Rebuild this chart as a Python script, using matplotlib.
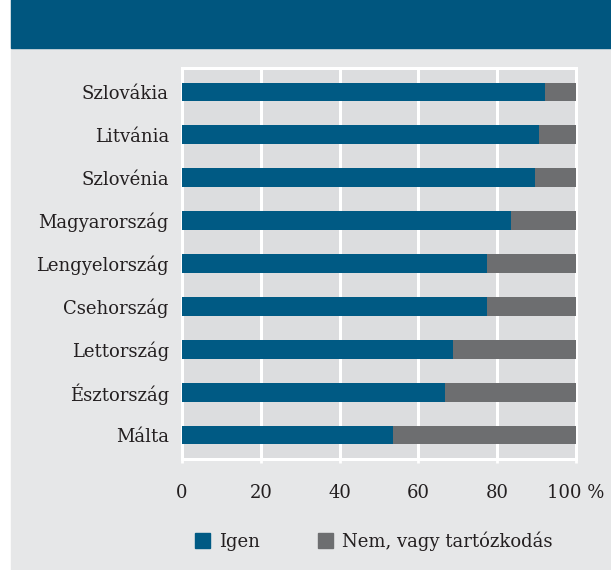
import matplotlib.pyplot as plt
from matplotlib.patches import Rectangle, Patch

countries = ['Málta', 'Észtország', 'Lettország', 'Csehország', 'Lengyelország',
             'Magyarország', 'Szlovénia', 'Litvánia', 'Szlovákia']
igen = [53.6, 66.8, 68.8, 77.3, 77.4, 83.5, 89.6, 90.6, 92.1]
nem = [100 - v for v in igen]
xticks = [0, 20, 40, 60, 80, 100]
xticklabels = ['0', '20', '40', '60', '80', '100 %']

blue = '#005a84'
grey = '#6d6e70'
bg = '#e6e7e8'
face = '#dcdddf'

plt.rcParams['font.family'] = 'DejaVu Serif'
plt.rcParams['font.size'] = 13

fig = plt.figure(figsize=(6.11, 5.70), dpi=100)
W, H = 611, 570
fig.patches.append(Rectangle((11 / W, 0), 1, 1, transform=fig.transFigure,
                             color=bg, zorder=-10))
fig.patches.append(Rectangle((11 / W, (H - 48) / H), 1, 1, transform=fig.transFigure,
                             color='#00567f', zorder=-9))

ax = fig.add_axes([182 / W, (H - 459) / H, (576 - 182) / W, (459 - 68) / H])
ax.set_facecolor(face)
ax.barh(range(len(countries)), igen, height=0.44, color=blue, zorder=3)
ax.barh(range(len(countries)), nem, left=igen, height=0.44, color=grey, zorder=3)

ax.set_xlim(0, 100)
ax.set_ylim(-0.56, len(countries) - 0.44)
ax.set_yticks(range(len(countries)))
ax.set_yticklabels(countries, color='#231f20')
ax.set_xticks(xticks)
ax.set_xticklabels(xticklabels, color='#231f20')
ax.tick_params(axis='y', length=0, pad=9.5)
ax.tick_params(axis='x', length=3, width=2, color='white', pad=15)
ax.grid(axis='x', color='white', linewidth=2.2, zorder=1)
for s in ax.spines.values():
    s.set_color('white')
    s.set_linewidth(2.2)

handles = [Patch(color=blue, label='Igen'),
           Patch(color=grey, label='Nem, vagy tartózkodás')]
fig.legend(handles=handles, ncol=2, loc='center left',
           bbox_to_anchor=(179 / W, (H - 541) / H), frameon=False,
           handlelength=0.83, handleheight=0.83, handletextpad=0.5,
           columnspacing=3.2, labelcolor='#231f20')

fig.savefig('out.png', dpi=100)
